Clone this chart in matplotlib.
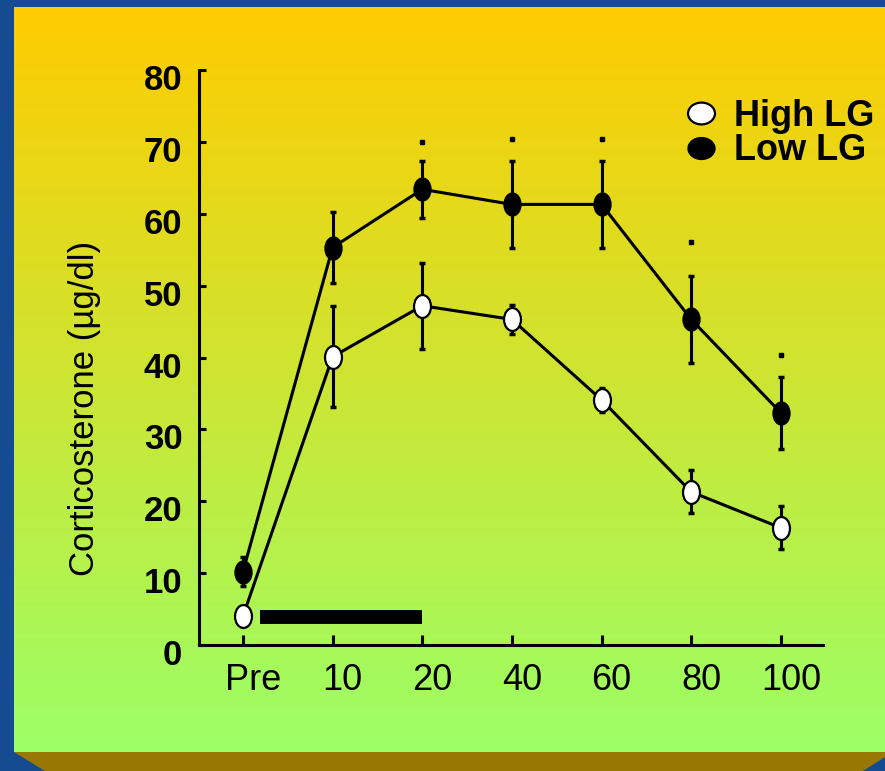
import numpy as np
import matplotlib
matplotlib.use("Agg")
import matplotlib.pyplot as plt
from matplotlib.path import Path
from matplotlib.lines import Line2D
from matplotlib.patches import Polygon
import matplotlib.transforms as mtransforms

plt.rcParams['font.family'] = ['Liberation Sans', 'DejaVu Sans']

# data
times = ['Pre', '10', '20', '40', '60', '80', '100']
high_lg = [4.0, 40.1, 47.2, 45.3, 34.1, 21.3, 16.3]
high_lg_err = [1.0, 7.0, 6.0, 2.0, 1.7, 3.0, 3.0]
low_lg = [10.2, 55.3, 63.4, 61.3, 61.3, 45.3, 32.3]
low_lg_err = [2.0, 5.0, 4.0, 6.0, 6.0, 6.0, 5.0]
sig_idx = [2, 3, 4, 5, 6]
sig_y = [70.0, 70.4, 70.4, 56.1, 40.4]
stress_start, stress_end, stress_y = 0.19, 2.0, 3.9

W, H = 885, 771
fig = plt.figure(figsize=(W / 100, H / 100), dpi=100)
fig.patch.set_facecolor('#144b91')

# gradient panel behind the chart
bg = fig.add_axes([14 / W, 1 - 752 / H, 1 - 14 / W, (752 - 7) / H], zorder=0)
top = np.array([255, 204, 0]) / 255
bot = np.array([155, 255, 102]) / 255
t = np.linspace(0, 1, 256)[:, None]
grad = (top[None, :] * (1 - t) + bot[None, :] * t)[:, None, :]
bg.imshow(grad, aspect='auto', extent=[0, 1, 0, 1])
bg.axis('off')

# gold bevel at the bottom
fig.patches.append(Polygon([(14 / W, 1 - 752 / H), (1, 1 - 752 / H), (1, 1 - 757 / H),
                            (863 / W, 0), (45 / W, 0)], closed=True,
                           transform=fig.transFigure, facecolor='#987800',
                           edgecolor='none', zorder=1))

ax = fig.add_axes([199 / W, 1 - 645 / H, (823 - 199) / W, (645 - 70) / H], zorder=2)
ax.set_facecolor('none')

circ = Path.unit_circle()
tall = Path(circ.vertices * [0.74, 1.0], circ.codes)
wide = Path(circ.vertices * [1.0, 0.81], circ.codes)

x = np.arange(len(times))
ax.errorbar(x, low_lg, yerr=low_lg_err, fmt='none', ecolor='black',
            elinewidth=2.2, capsize=2.5, capthick=2.5, zorder=3)
ax.errorbar(x, high_lg, yerr=high_lg_err, fmt='none', ecolor='black',
            elinewidth=2.2, capsize=2.5, capthick=2.5, zorder=3)
ax.plot(x, low_lg, color='black', lw=2.2, marker=tall, markersize=16.5,
        markerfacecolor='black', markeredgecolor='black', zorder=4)
ax.plot(x, high_lg, color='black', lw=2.2, marker=tall, markersize=16.5,
        markerfacecolor='white', markeredgecolor='black', markeredgewidth=1.6, zorder=5)

# significance dots
ax.plot(x[sig_idx], sig_y, linestyle='none', marker='s', markersize=2.8,
        color='black', zorder=4)

# stress bar
ax.plot([stress_start, stress_end], [stress_y, stress_y], color='black', lw=10,
        solid_capstyle='butt', zorder=3)

ax.set_xlim(-0.49, 6.47)
ax.set_ylim(0, 80)
ax.set_xticks(x)
ax.set_xticklabels(times, fontsize=26)
ax.set_yticks(range(0, 81, 10))
ax.set_yticklabels([str(v) for v in range(0, 81, 10)], fontsize=25, fontweight='bold')
for s in ['top', 'right']:
    ax.spines[s].set_visible(False)
for s in ['left', 'bottom']:
    ax.spines[s].set_linewidth(2.2)
ax.tick_params(axis='y', direction='in', length=5, width=2.2, pad=12)
ax.tick_params(axis='x', direction='in', length=7, width=2.2, pad=13)
yoff = mtransforms.ScaledTranslation(0, -7 / 100, fig.dpi_scale_trans)
for lab in ax.get_yticklabels():
    lab.set_transform(lab.get_transform() + yoff)
xoff = mtransforms.ScaledTranslation(10 / 100, 0, fig.dpi_scale_trans)
for lab in ax.get_xticklabels():
    lab.set_transform(lab.get_transform() + xoff)

ax.set_ylabel('Corticosterone (µg/dl)', fontsize=25)
ax.yaxis.set_label_coords(-0.157, 0.412)

handles = [
    Line2D([], [], linestyle='none', marker=wide, markersize=19.4,
           markerfacecolor='white', markeredgecolor='black', markeredgewidth=1.6),
    Line2D([], [], linestyle='none', marker=wide, markersize=19.4,
           markerfacecolor='black', markeredgecolor='black'),
]
fig.legend(handles, ['High LG', 'Low LG'], loc='upper left',
           bbox_to_anchor=(683 / W, 1 - 99 / H), frameon=False,
           prop={'size': 26, 'weight': 'bold'}, labelspacing=-0.02,
           handlelength=1.0, handletextpad=0.4, borderpad=0, borderaxespad=0)

fig.savefig('out.png', dpi=100, facecolor=fig.get_facecolor())
